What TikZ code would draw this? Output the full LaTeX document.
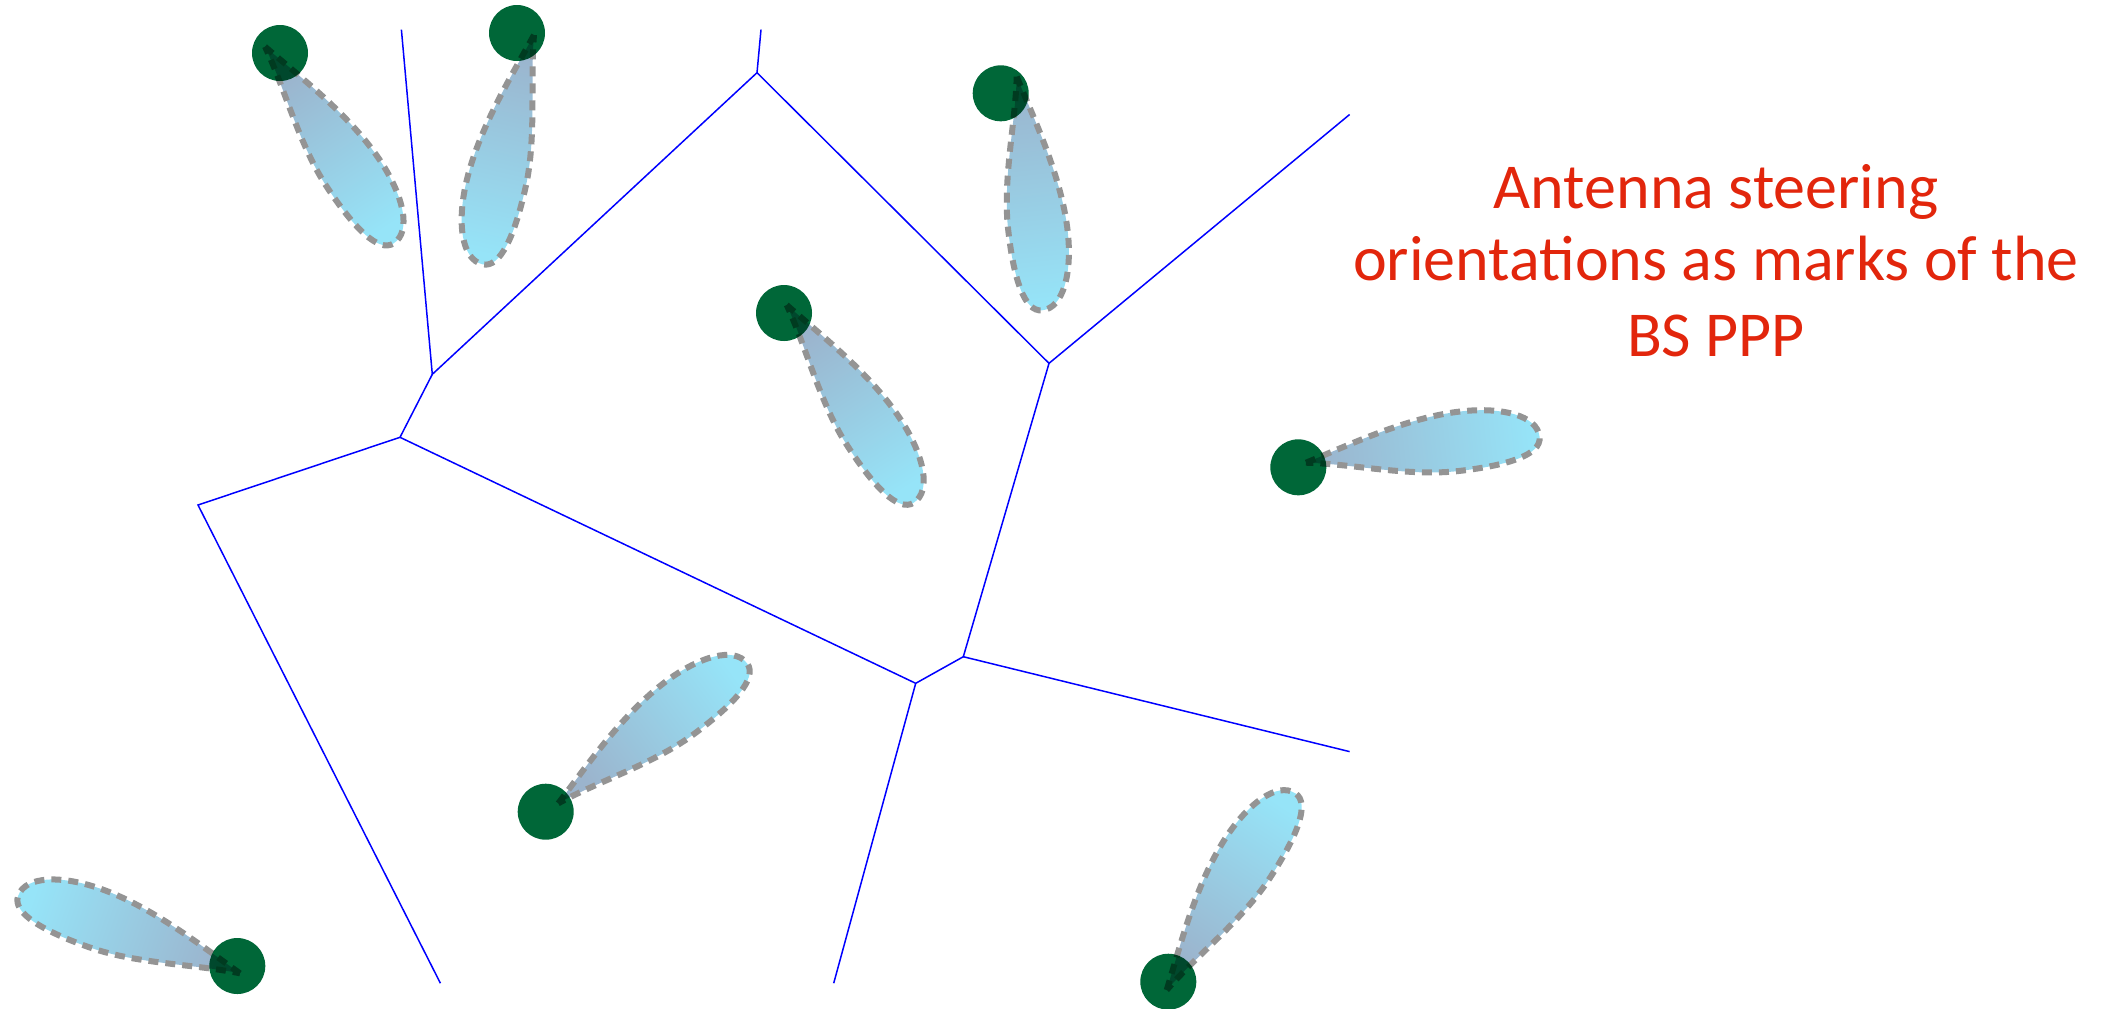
\documentclass[tikz,border=0pt]{standalone}
\usepackage{fontspec}
\setmainfont{Carlito}
\definecolor{bsgreen}{RGB}{0,103,56}
\definecolor{lobebase}{RGB}{155,180,205}
\definecolor{lobetip}{RGB}{150,228,248}
\definecolor{lobeedge}{RGB}{148,148,148}
\definecolor{captionred}{RGB}{226,38,12}
\begin{document}
\begin{tikzpicture}[x=0.5pt,y=-0.5pt,
  cell/.style={blue, line width=0.75pt},
  bs/.style={circle, fill=bsgreen, minimum size=28pt, inner sep=0pt, blend mode=multiply},
  lobeshape/.style={bottom color=lobebase, top color=lobetip, draw=lobeedge,
    line width=3pt, dash pattern=on 5pt off 3.5pt},
  caption/.style={text=captionred, font=\fontsize{32}{37}\selectfont, anchor=base, inner sep=0pt},
  % beam lobe along local +x; the argument is the shading angle (beam direction - 90)
  lobe/.pic={\path[lobeshape, shading angle=#1] (0,0)
    .. controls (45,-13) and (105,-34) .. (160,-34)
    .. controls (200,-34) and (235,-22) .. (235,0)
    .. controls (235,18) and (200,25) .. (150,25)
    .. controls (100,25) and (45,6) .. (0,0) -- cycle;}
]
\useasboundingbox (0,0) rectangle (2112,1008);

% Voronoi vertices and border ends
\coordinate (G) at (757,72.7);
\coordinate (A) at (432.3,374.3);
\coordinate (B) at (400,437.3);
\coordinate (E) at (198,505);
\coordinate (C) at (915.7,683.3);
\coordinate (D) at (963.3,656.7);
\coordinate (F) at (1049,363.3);
\coordinate (t1) at (401.4,29.6);
\coordinate (t2) at (761,29.6);
\coordinate (r1) at (1349.6,114.5);
\coordinate (r2) at (1349.6,751.6);
\coordinate (b1) at (440.4,983.2);
\coordinate (b2) at (833.7,983.2);

% Voronoi cell edges
\draw[cell] (t1) -- (A) -- (G) -- (t2);
\draw[cell] (A) -- (B) -- (E) -- (b1);
\draw[cell] (B) -- (C) -- (D) -- (F) -- (G);
\draw[cell] (F) -- (r1);
\draw[cell] (D) -- (r2);
\draw[cell] (C) -- (b2);

% steered antenna lobes
\pic[rotate=-56.8] (lobe1) at (265,46.7) {lobe=-146.8};
\pic[rotate=-102.6, yscale=-1] (lobe2) at (534,35) {lobe=167.4};
\pic[rotate=-83.8] (lobe3) at (1016.7,76.7) {lobe=-173.8};
\pic[rotate=-57.3] (lobe4) at (786.7,305) {lobe=-147.3};
\pic[rotate=6.3] (lobe5) at (1306,462.7) {lobe=-83.7};
\pic[rotate=36.5] (lobe6) at (558.3,803.3) {lobe=-53.5};
\pic[rotate=160.8, yscale=-1] (lobe7) at (240,973.3) {lobe=70.8};
\pic[rotate=56.8] (lobe8) at (1166.7,990) {lobe=-33.2};

% base stations
\node[bs] (bs1) at (280,53) {};
\node[bs] (bs2) at (517,33) {};
\node[bs] (bs3) at (1000.7,93.3) {};
\node[bs] (bs4) at (784,313) {};
\node[bs] (bs5) at (1298.3,467.3) {};
\node[bs] (bs6) at (545.7,811.7) {};
\node[bs] (bs7) at (237.3,966) {};
\node[bs] (bs8) at (1168.3,981.7) {};

% caption
\node[caption] (cap1) at (1716,208) {Antenna steering};
\node[caption] (cap2) at (1716,280) {orientations as marks of the};
\node[caption] (cap3) at (1716,356) {BS PPP};
\end{tikzpicture}
\end{document}
